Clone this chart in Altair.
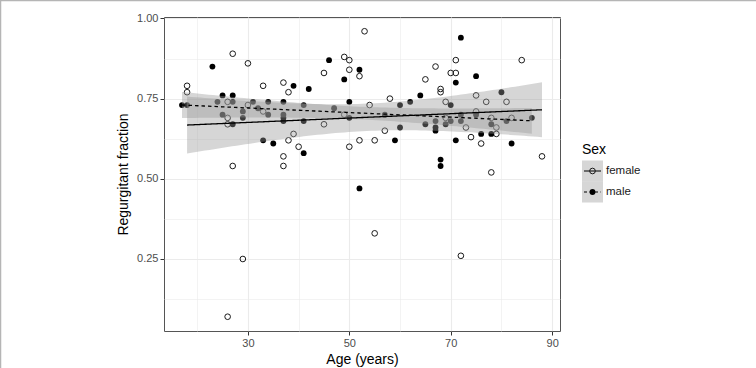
import numpy as np
import pandas as pd
import altair as alt

FONT = "Liberation Sans"

sexes = ["female", "male"]

female_age = [18, 18, 26, 26, 26, 27, 27, 30, 30, 33, 33, 37, 38, 38, 39, 37, 37, 40,
              45, 45, 49, 50, 50, 52, 50, 53, 49, 54, 58, 65, 67, 70, 71, 71, 84, 68,
              68, 69, 75, 77, 81, 75, 69, 78, 82, 79, 73, 57, 55, 52, 74, 79, 76, 88,
              78, 55, 72, 29, 26]
female_rf = [0.79, 0.77, 0.74, 0.69, 0.67, 0.89, 0.54, 0.86, 0.73, 0.71, 0.79, 0.80,
             0.77, 0.62, 0.64, 0.57, 0.54, 0.60, 0.83, 0.67, 0.88, 0.87, 0.84, 0.82,
             0.60, 0.96, 0.70, 0.73, 0.75, 0.81, 0.85, 0.83, 0.83, 0.87, 0.87, 0.78,
             0.77, 0.74, 0.76, 0.74, 0.74, 0.71, 0.69, 0.69, 0.69, 0.66, 0.66, 0.65,
             0.62, 0.62, 0.63, 0.64, 0.61, 0.57, 0.52, 0.33, 0.26, 0.25, 0.07]

male_age = [17, 18, 23, 24, 25, 25, 27, 27, 27, 29, 29, 31, 32, 33, 34, 34, 35, 39,
            37, 37, 37, 37, 41, 42, 41, 41, 46, 47, 49, 50, 52, 50, 57, 60, 62, 64,
            71, 72, 75, 70, 80, 75, 72, 70, 72, 67, 69, 65, 67, 67, 81, 86, 78, 60,
            59, 71, 76, 78, 82, 68, 68, 52]
male_rf = [0.73, 0.73, 0.85, 0.74, 0.76, 0.70, 0.76, 0.74, 0.67, 0.71, 0.69, 0.74,
           0.72, 0.62, 0.74, 0.70, 0.61, 0.79, 0.74, 0.70, 0.69, 0.68, 0.58, 0.78,
           0.73, 0.68, 0.87, 0.72, 0.81, 0.74, 0.84, 0.69, 0.70, 0.73, 0.74, 0.76,
           0.80, 0.94, 0.82, 0.73, 0.77, 0.70, 0.70, 0.68, 0.68, 0.68, 0.67, 0.67,
           0.66, 0.65, 0.68, 0.69, 0.67, 0.66, 0.62, 0.62, 0.64, 0.64, 0.61, 0.56,
           0.54, 0.47]

x_major = [30, 50, 70, 90]
x_minor = [20, 40, 60, 80]
y_major = [0.25, 0.50, 0.75, 1.00]
y_minor = [0.125, 0.375, 0.625, 0.875]

groups = {"female": (female_age, female_rf), "male": (male_age, male_rf)}

points = pd.DataFrame({
    "age": female_age + male_age,
    "rf": female_rf + male_rf,
    "Sex": ["female"] * len(female_age) + ["male"] * len(male_age),
})


def t975(df):
    z = 1.959964
    return z + (z**3 + z) / (4 * df) + (5 * z**5 + 16 * z**3 + 3 * z) / (96 * df**2)


rows = []
for s in sexes:
    xa = np.array(groups[s][0], float)
    ya = np.array(groups[s][1], float)
    n = len(xa)
    xb = xa.mean()
    sxx = ((xa - xb) ** 2).sum()
    b1 = ((xa - xb) * (ya - ya.mean())).sum() / sxx
    b0 = ya.mean() - b1 * xb
    resid = ya - (b0 + b1 * xa)
    sd = np.sqrt((resid ** 2).sum() / (n - 2))
    t = t975(n - 2)
    for xv in np.linspace(xa.min(), xa.max(), 80):
        fit = b0 + b1 * xv
        se = sd * np.sqrt(1.0 / n + (xv - xb) ** 2 / sxx)
        rows.append({"age": xv, "rf": fit, "lo": fit - t * se, "hi": fit + t * se, "Sex": s})
smooth = pd.DataFrame(rows)

# ggplot-like 5% expansion
all_x = points["age"]
all_y = points["rf"]
xr = all_x.max() - all_x.min()
yr = all_y.max() - all_y.min()
x_dom = [all_x.min() - 0.05 * xr, all_x.max() + 0.05 * xr]
y_dom = [all_y.min() - 0.05 * yr, all_y.max() + 0.05 * yr]

x_scale = alt.Scale(domain=x_dom, nice=False, zero=False)
y_scale = alt.Scale(domain=y_dom, nice=False, zero=False)

x_axis = alt.Axis(
    values=sorted(x_major + x_minor), format="d",
    labelExpr="datum.value % 20 == 10 ? datum.label : ''",
    gridColor="#ebebeb",
    gridWidth={"condition": {"test": "datum.value % 20 == 10", "value": 1.1}, "value": 0.6},
    tickOpacity={"condition": {"test": "datum.value % 20 == 10", "value": 1}, "value": 0},
    domain=False, tickColor="#333333", tickSize=4, tickWidth=1,
    labelColor="#4d4d4d", labelFontSize=11, labelPadding=2, labelFont=FONT,
    titleFont=FONT, titleFontSize=14, titleFontWeight="normal", titleColor="#000000",
    titlePadding=4,
)
y_axis = alt.Axis(
    values=sorted(y_major + y_minor), format=".2f",
    labelExpr="round(datum.value * 8) % 2 == 0 ? datum.label : ''",
    gridColor="#ebebeb",
    gridWidth={"condition": {"test": "round(datum.value * 8) % 2 == 0", "value": 1.1}, "value": 0.6},
    tickOpacity={"condition": {"test": "round(datum.value * 8) % 2 == 0", "value": 1}, "value": 0},
    domain=False, tickColor="#333333", tickSize=4, tickWidth=1,
    labelColor="#4d4d4d", labelFontSize=11, labelPadding=2, labelFont=FONT,
    titleFont=FONT, titleFontSize=14, titleFontWeight="normal", titleColor="#000000",
    titlePadding=6,
)

X = lambda f: alt.X(f"{f}:Q", scale=x_scale, axis=x_axis, title="Age (years)")
Y = lambda f: alt.Y(f"{f}:Q", scale=y_scale, axis=y_axis, title="Regurgitant fraction")

base_pts = alt.Chart(points)
female_pts = base_pts.transform_filter("datum.Sex == 'female'").mark_point(
    shape="circle", filled=False, stroke="#1a1a1a", strokeWidth=1, size=32, opacity=1
).encode(x=X("age"), y=Y("rf"))
male_pts = base_pts.transform_filter("datum.Sex == 'male'").mark_circle(
    color="#000000", size=34, opacity=1
).encode(x=X("age"), y=Y("rf"))

ribbon = alt.Chart(smooth).mark_area(fill="#999999", opacity=0.4).encode(
    x=X("age"), y=Y("lo"), y2="hi:Q", detail="Sex:N"
)

dash_scale = alt.Scale(domain=sexes, range=[[1, 0], [3.5, 3]])
lines = alt.Chart(smooth).mark_line(color="#000000", strokeWidth=1.3).encode(
    x=X("age"), y=Y("rf"),
    strokeDash=alt.StrokeDash("Sex:N", scale=dash_scale, legend=None),
)

# manual legend (ggplot style: keys with grey background, line + point)
leg_df = pd.DataFrame({"Sex": sexes})
leg_layers = []
leg_layers.append(
    alt.Chart(leg_df.head(1)).mark_text(
        text="Sex", align="left", baseline="middle", fontSize=14, font=FONT, color="#000000"
    ).encode(x=alt.value(418), y=alt.value(133))
)
for i, s in enumerate(sexes):
    yc = 154 + 21 * i
    d = leg_df[leg_df["Sex"] == s]
    leg_layers.append(
        alt.Chart(d).mark_rect(fill="#999999", opacity=0.4).encode(
            x=alt.value(418), x2=alt.value(439), y=alt.value(yc - 10.5), y2=alt.value(yc + 10.5)
        )
    )
    leg_layers.append(
        alt.Chart(d).mark_rule(
            color="#000000", strokeWidth=1.2,
            strokeDash=([1, 0] if s == "female" else [3, 2.5]),
        ).encode(x=alt.value(420), x2=alt.value(437), y=alt.value(yc))
    )
    if s == "female":
        leg_layers.append(
            alt.Chart(d).mark_point(shape="circle", filled=False, stroke="#1a1a1a",
                                    strokeWidth=1, size=32, opacity=1)
            .encode(x=alt.value(428.5), y=alt.value(yc))
        )
    else:
        leg_layers.append(
            alt.Chart(d).mark_circle(color="#000000", size=34, opacity=1)
            .encode(x=alt.value(428.5), y=alt.value(yc))
        )
    leg_layers.append(
        alt.Chart(d).mark_text(align="left", baseline="middle", fontSize=11.5, font=FONT,
                               color="#1a1a1a")
        .encode(x=alt.value(442), y=alt.value(yc), text="Sex:N")
    )

# outer frame lines (top and left)
frame = [
    alt.Chart(leg_df.head(1)).mark_rule(color="#b5b5b5", strokeWidth=1.5).encode(
        x=alt.value(-164), x2=alt.value(592), y=alt.value(-16.5)
    ),
    alt.Chart(leg_df.head(1)).mark_rule(color="#b5b5b5", strokeWidth=1.5).encode(
        x=alt.value(-163.5), y=alt.value(-17), y2=alt.value(351)
    ),
]

chart = alt.layer(
    female_pts, male_pts, ribbon, lines, *leg_layers, *frame
).properties(
    width=396, height=314,
    padding={"left": 164, "top": 17, "right": 196, "bottom": 37},
    autosize=alt.AutoSizeParams(type="none"),
    background="white",
).configure_view(
    stroke="#555555", strokeWidth=1
).configure_axis(
    gridColor="#ebebeb"
)

chart.save("out.html", embed_options={"renderer": "svg", "actions": False})
